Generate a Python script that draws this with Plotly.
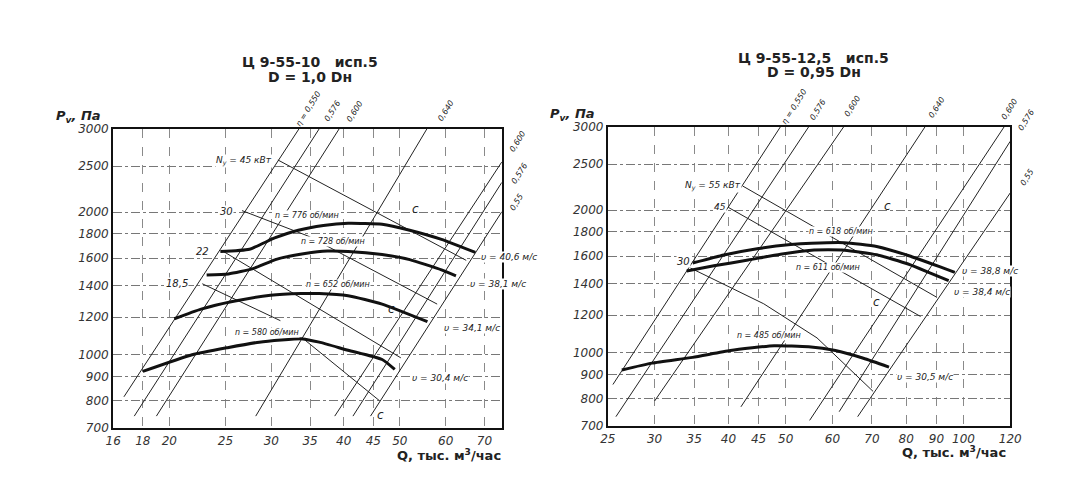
import numpy as np
import plotly.graph_objects as go

# ---------- Ц 9-55-10 исп.5 (left) ----------
# fan curves, Q thousand m3/h, P Pa
q_776 = [24.5, 27.5, 30.4, 33.4, 36.9, 40.7, 46.6, 52.0, 59.0, 67.5]
p_776 = [1652, 1670, 1764, 1832, 1875, 1895, 1886, 1832, 1752, 1644]
q_728 = [23.2, 25.3, 27.9, 30.6, 34.3, 37.5, 40.7, 46.6, 52.0, 59.0, 62.5]
p_728 = [1474, 1481, 1520, 1590, 1635, 1655, 1652, 1627, 1588, 1511, 1467]
q_652 = [20.4, 22.7, 25.7, 29.9, 33.8, 36.3, 40.7, 46.6, 55.8]
p_652 = [1191, 1248, 1295, 1335, 1346, 1346, 1332, 1279, 1174]
q_580 = [18.0, 21.9, 25.2, 28.6, 34.0, 36.3, 40.7, 46.6, 49.0]
p_580 = [922, 1000, 1035, 1063, 1080, 1063, 1022, 977, 931]

# efficiency lines (start Q, start P, end Q, end P)
eta_l_q0 = [16.7, 17.4, 19.0, 28.2, 38.6, 41.5, 44.5]
eta_l_p0 = [815, 742, 742, 742, 742, 742, 742]
eta_l_q1 = [33.5, 36.3, 39.3, 55.7, 75, 75, 75]
eta_l_p1 = [3000, 3000, 3000, 3000, 2553, 2311, 2004]

# power lines
n45_l_q = [30.8, 65.1]
n45_l_p = [2577, 1582]
n30_l_q = [26.7, 34.7, 58.0]
n30_l_p = [2015, 1781, 1279]
n22_l_q = [24.8, 50.2]
n22_l_p = [1652, 985]
n18_l_q = [22.8, 31.1]
n18_l_p = [1412, 1180]
c_l_q = [34.0, 46.1]
c_l_p = [1083, 800]

# ---------- Ц 9-55-12,5 исп.5 (right) ----------
q_618 = [34.8, 39.3, 45.0, 51.0, 55.3, 62.9, 71.3, 80.6, 91.1, 96.7]
p_618 = [1547, 1608, 1660, 1692, 1703, 1708, 1677, 1605, 1520, 1478]
q_611 = [34.0, 37.8, 43.2, 49.0, 55.3, 62.9, 71.3, 80.6, 87.7, 94.4]
p_611 = [1488, 1526, 1570, 1615, 1647, 1647, 1610, 1540, 1475, 1420]
q_485 = [26.4, 29.7, 34.8, 40.3, 47.8, 54.7, 60.7, 67.7, 74.8]
p_485 = [920, 951, 978, 1011, 1035, 1030, 1011, 974, 933]

eta_r_q0 = [25.5, 25.8, 30.0, 42.0, 54.9, 61.6, 66.2]
eta_r_p0 = [857, 733, 791, 769, 720, 751, 733]
eta_r_q1 = [49.0, 54.7, 62.7, 86.1, 117.2, 120, 120]
eta_r_p1 = [3000, 3000, 3000, 3000, 3000, 2796, 2175]

n55_r_q = [42.3, 90.0]
n55_r_p = [2249, 1311]
n45_r_q = [40.0, 84.6]
n45_r_p = [2027, 1193]
n30_r_q = [34.5, 45.9, 56.5, 70.3]
n30_r_p = [1510, 1269, 1075, 829]

# ticks
y_ticks = [700, 800, 900, 1000, 1200, 1400, 1600, 1800, 2000, 2500, 3000]
x_ticks_l = [16, 18, 20, 25, 30, 35, 40, 45, 50, 60, 70]
x_ticks_r = [25, 30, 35, 40, 45, 50, 60, 70, 80, 90, 100, 120]

fig = go.Figure()


def curve(q, p, xa, ya, w):
    fig.add_trace(go.Scatter(x=q, y=p, mode="lines", xaxis=xa, yaxis=ya,
                             line=dict(color="#111", width=w, shape="spline", smoothing=0.5),
                             showlegend=False, hoverinfo="skip"))


def straight(q, p, xa, ya):
    fig.add_trace(go.Scatter(x=q, y=p, mode="lines", xaxis=xa, yaxis=ya,
                             line=dict(color="#222", width=1),
                             showlegend=False, hoverinfo="skip"))


# thin lines first, thick fan curves on top
for i in range(len(eta_l_q0)):
    straight([eta_l_q0[i], eta_l_q1[i]], [eta_l_p0[i], eta_l_p1[i]], "x", "y")
for q, p in [(n45_l_q, n45_l_p), (n30_l_q, n30_l_p), (n22_l_q, n22_l_p),
             (n18_l_q, n18_l_p), (c_l_q, c_l_p)]:
    straight(q, p, "x", "y")
for q, p in [(q_776, p_776), (q_728, p_728), (q_652, p_652), (q_580, p_580)]:
    curve(q, p, "x", "y", 3)

for i in range(len(eta_r_q0)):
    straight([eta_r_q0[i], eta_r_q1[i]], [eta_r_p0[i], eta_r_p1[i]], "x2", "y2")
for q, p in [(n55_r_q, n55_r_p), (n45_r_q, n45_r_p), (n30_r_q, n30_r_p)]:
    straight(q, p, "x2", "y2")
for q, p in [(q_618, p_618), (q_611, p_611), (q_485, p_485)]:
    curve(q, p, "x2", "y2", 3)

tick_font = dict(family="DejaVu Sans", size=12, color="#333", style="italic")
common_x = dict(type="log", showline=True, mirror=True, linecolor="#111", linewidth=2,
                ticks="", showgrid=True, gridcolor="#8a8a8a", griddash="dash", gridwidth=1,
                tickfont=tick_font, zeroline=False)
common_y = dict(type="log", showline=True, mirror=True, linecolor="#111", linewidth=2,
                ticks="", showgrid=True, gridcolor="#777", griddash="dashdot", gridwidth=1,
                tickfont=tick_font, zeroline=False, tickvals=y_ticks,
                ticktext=[str(v) for v in y_ticks], range=[np.log10(700), np.log10(3000)])

fig.update_layout(
    width=1080, height=500,
    margin=dict(l=0, r=0, t=0, b=0),
    paper_bgcolor="white", plot_bgcolor="white",
    xaxis=dict(common_x, domain=[99 / 1080, 495 / 1080], anchor="y",
               range=[np.log10(16), np.log10(75)],
               tickvals=x_ticks_l, ticktext=[str(v) for v in x_ticks_l]),
    yaxis=dict(common_y, domain=[0.15, 0.766], anchor="x"),
    xaxis2=dict(common_x, domain=[603 / 1080, 1013 / 1080], anchor="y2",
                range=[np.log10(25), np.log10(120)],
                tickvals=x_ticks_r, ticktext=[str(v) for v in x_ticks_r]),
    yaxis2=dict(common_y, domain=[0.154, 0.77], anchor="x2"),
)

ann = []


def label(text, px, py, size=9, xanchor="center", angle=0, bold=False, italic=True, bg=None):
    a = dict(text=text, x=px / 1080, y=1 - py / 500, xref="paper", yref="paper",
             showarrow=False, xanchor=xanchor, yanchor="middle", textangle=angle,
             borderpad=0,
             font=dict(family="DejaVu Sans", size=size, color="#222",
                       style="italic" if italic else "normal",
                       weight="bold" if bold else "normal"))
    if bg:
        a["bgcolor"] = bg
    ann.append(a)


# titles
label("Ц 9-55-10   исп.5", 300, 48, 14, bold=True, italic=False)
label("D = 1,0 Dн", 300, 64, 14, bold=True, italic=False)
label("Ц 9-55-12,5   исп.5", 813, 44, 14, bold=True, italic=False)
label("D = 0,95 Dн", 813, 59, 14, bold=True, italic=False)

# axis titles
for px, py in [(40, 104), (543, 102)]:
    label("P<sub>v</sub>, Па", px, py, 13, xanchor="left", bold=True)
label("Q, тыс. м<sup>3</sup>/час", 495, 453, 13, xanchor="right", bold=True, italic=False)
label("Q, тыс. м<sup>3</sup>/час", 1010, 450, 13, xanchor="right", bold=True, italic=False)

# efficiency labels, left
for t, px, py in [("η = 0,550", 298, 96), ("0,576", 322, 99), ("0,600", 345, 99),
                  ("0,640", 438, 98), ("0,600", 511, 130), ("0,576", 513, 163),
                  ("0,55", 510, 193)]:
    label(t, px, py, 8, angle=-58)
# efficiency labels, right
for t, px, py in [("η = 0,550", 793, 94), ("0,576", 817, 97), ("0,600", 852, 94),
                  ("0,640", 938, 95), ("0,600", 1012, 97), ("0,576", 1030, 108),
                  ("0,55", 1030, 167)]:
    label(t, px, py, 8, angle=-58)

# power labels
label("N<sub>у</sub> = 45 кВт", 262, 150, 9, xanchor="right", bg="white")
label("30", 222, 202, 10, xanchor="right", bg="white")
label("22", 198, 243, 10, xanchor="right", bg="white")
label("18,5", 176, 276, 10, xanchor="right", bg="white")
label("N<sub>у</sub> = 55 кВт", 740, 176, 9, xanchor="right", bg="white")
label("45", 724, 198, 9, xanchor="right", bg="white")
label("30", 688, 254, 10, xanchor="right", bg="white")

# speed labels
for t, px, py in [("n = 776 об/мин", 296, 206), ("n = 728 об/мин", 323, 233),
                  ("n = 652 об/мин", 328, 277), ("n = 580 об/мин", 256, 327),
                  ("n = 618 об/мин", 841, 223), ("n = 611 об/мин", 827, 260),
                  ("n = 485 об/мин", 767, 330)]:
    label(t, px, py, 8, bg="white")

# velocity labels
for t, px, py in [("υ = 40,6 м/с", 473, 249), ("υ = 38,1 м/с", 462, 277),
                  ("υ = 34,1 м/с", 435, 322), ("υ = 30,4 м/с", 402, 373),
                  ("υ = 38,8 м/с", 963, 263), ("υ = 38,4 м/с", 955, 285),
                  ("υ = 30,5 м/с", 897, 372)]:
    label(t, px, py, 9, xanchor="left", bg="white")

# "c" marks
for px, py in [(407, 200), (383, 302), (371, 412), (888, 197), (877, 295)]:
    label("c", px, py, 12)

fig.update_layout(annotations=ann)
fig.write_html("out.html")
